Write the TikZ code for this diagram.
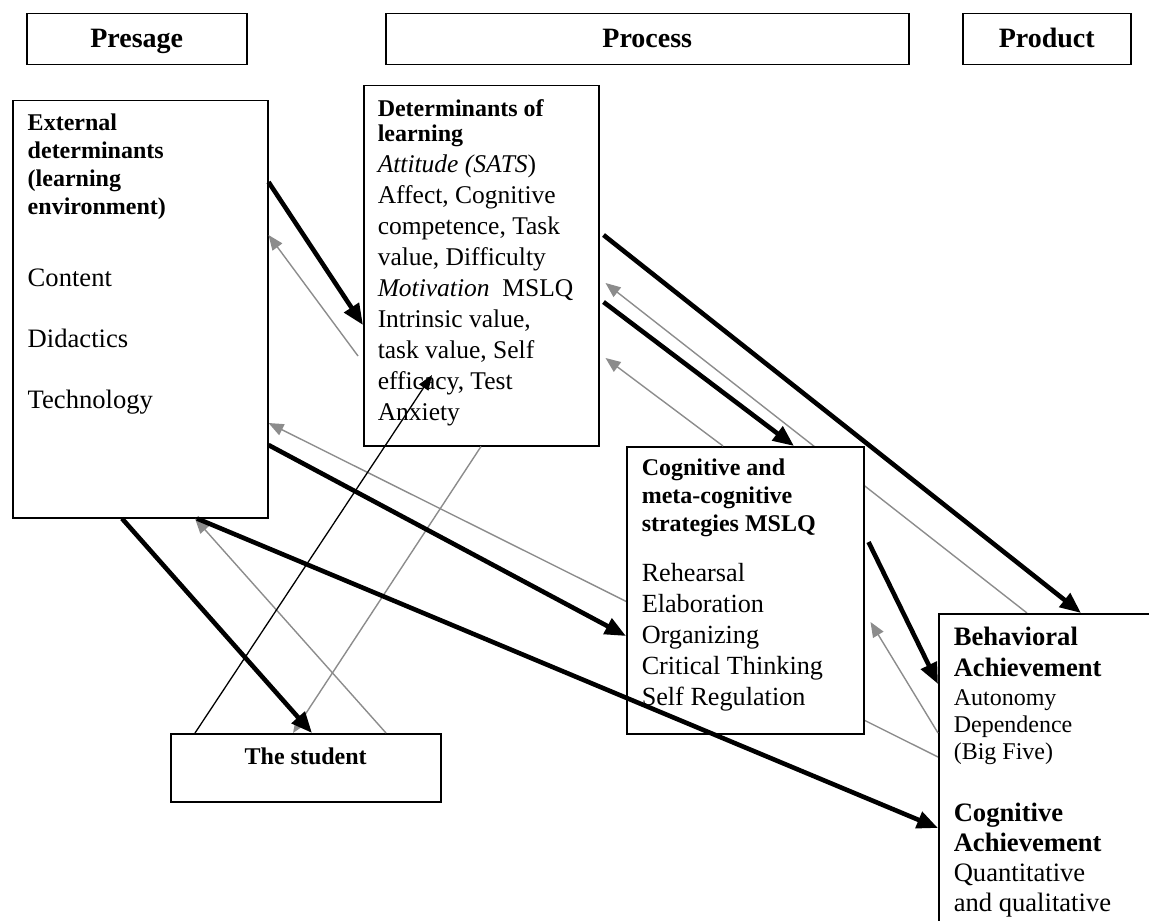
\documentclass[tikz,border=0pt]{standalone}
\usepackage{fontspec}
\setmainfont{Liberation Serif}
\usetikzlibrary{
    positioning,
    arrows.meta,
    backgrounds
}
\newcommand{\fsz}[2]{\fontsize{#1}{#2}\selectfont}
\setlength{\parskip}{0pt}

\begin{document}
\begin{tikzpicture}[x=0.5pt, y=-0.5pt]

    % --- Estilos ---
    \tikzset{
        head_box/.style={draw, line width=0.75pt, anchor=north west, minimum height=25.5pt,
            inner sep=0pt, text height=11.5pt, text depth=3pt, font=\fsz{14}{16}\bfseries},
        text_box/.style={draw, fill=white, line width=0.75pt, anchor=north west,
            inner xsep=7.5pt, inner ysep=0pt},
        bold_arrow/.style={-{Triangle[length=10.5pt,width=8.5pt]}, line width=2.3pt},
        gray_arrow/.style={-{Triangle[length=7.5pt,width=6pt]}, line width=0.7pt, draw=black!45},
        thin_arrow/.style={-{Triangle[length=7.5pt,width=5.5pt]}, line width=0.65pt}
    }

    \useasboundingbox (0,0) rectangle (1149,920);
    \clip (0,0) rectangle (1149,920);

    % --- Cabecalhos ---
    \node[head_box, minimum width=110pt] (presage) at (26,13) {Presage};
    \node[head_box, minimum width=261.5pt] (process) at (385,13) {Process};
    \node[head_box, minimum width=84pt] (product) at (962,13) {Product};

    % --- Caixas ---
    \node[text_box] (ext) at (12,100) {\parbox[t][208.5pt][t]{112.5pt}{\raggedright
        {\fsz{12}{14}\bfseries\rule{0pt}{15pt}External\\ determinants\\ (learning\\ environment)\par}
        \vspace{5.5pt}
        {\fsz{13.3}{30.5}Content\\ Didactics\\ Technology\par}}};

    \node[text_box, inner xsep=7pt] (det) at (363,85) {\parbox[t][180pt][t]{103.5pt}{\raggedright
        {\fsz{12}{12.5}\bfseries\rule{0pt}{15.6pt}Determinants of\\ learning\par}
        {\fsz{12.75}{15.5}\textit{Attitude (SATS})\\ Affect, Cognitive\\ competence, Task\\
        value, Difficulty\\ \textit{Motivation}\ \ MSLQ\\ Intrinsic value,\\ task value, Self\\
        efficacy, Test\\ Anxiety\par}}};

    \node[text_box] (cog) at (626,446) {\parbox[t][143.5pt][t]{103.5pt}{\raggedright
        {\fsz{12}{14}\bfseries\rule{0pt}{14.6pt}Cognitive and\\ meta-cognitive\\ strategies MSLQ\par}
        \vspace{9.3pt}
        {\fsz{13.1}{15.5}Rehearsal\\ Elaboration\\ Organizing\\ Critical Thinking\\ Self Regulation\par}}};

    \node[text_box] (student) at (170,733) {\parbox[t][34pt][t]{120pt}{\centering
        \fsz{12}{14}\bfseries\rule{0pt}{15.5pt}The student}};

    \node[text_box] (beh) at (938,613) {\parbox[t][170pt][t]{105pt}{\raggedright
        {\fsz{13.3}{15.5}\bfseries\rule{0pt}{16pt}Behavioral\\ Achievement\par}
        \vspace{1.1pt}
        {\fsz{12}{13.5}Autonomy\\ Dependence\\ (Big Five)\par}
        \vspace{15.9pt}
        {\fsz{13.3}{15}\bfseries Cognitive\\ Achievement\par}
        {\fsz{13.3}{15}Quantitative\\ and qualitative\par}}};

    % --- Setas cinzas atras das caixas ---
    \begin{scope}[on background layer]
        \draw[gray_arrow] ([xshift=44.5pt]beh.north west) -- ([xshift=3pt,yshift=-99pt]det.north east);
        \draw[gray_arrow] ([yshift=-72pt]beh.north west) -- ([yshift=-161.5pt]ext.north east);
    \end{scope}

    % --- Setas cinzas ---
    \draw[gray_arrow] ([xshift=-2.5pt,yshift=-135.5pt]det.north west) -- ([yshift=-67.5pt]ext.north east);
    \draw[gray_arrow] ([xshift=48.5pt]cog.north west) -- ([xshift=3pt,yshift=-136.5pt]det.north east);
    \draw[gray_arrow] ([yshift=-60pt]beh.north west) -- ([xshift=3pt,yshift=-88pt]cog.north east);
    \draw[gray_arrow] ([xshift=108pt]student.north west) -- ([xshift=91.5pt]ext.south west);
    \draw[gray_arrow] ([xshift=59pt]det.south west) -- ([xshift=61.5pt]student.north west);

    % --- Seta fina ---
    \draw[thin_arrow] ([xshift=12.5pt]student.north west) -- ([xshift=34.5pt,yshift=-145pt]det.north west);

    % --- Setas grossas ---
    \draw[bold_arrow] ([yshift=-41pt]ext.north east) -- ([yshift=-120pt]det.north west);
    \draw[bold_arrow] ([xshift=2pt,yshift=-75pt]det.north east) -- ([xshift=71.5pt]beh.north west);
    \draw[bold_arrow] ([xshift=2pt,yshift=-108.5pt]det.north east) -- ([xshift=84pt]cog.north west);
    \draw[bold_arrow] ([xshift=2pt,yshift=-48pt]cog.north east) -- ([yshift=-35.5pt]beh.north west);
    \draw[bold_arrow] ([yshift=-172.5pt]ext.north east) -- ([yshift=-95pt]cog.north west);
    \draw[bold_arrow] ([xshift=55pt]ext.south west) -- ([xshift=71pt]student.north west);
    \draw[bold_arrow] ([xshift=92.5pt]ext.south west) -- ([yshift=-107.5pt]beh.north west);

\end{tikzpicture}
\end{document}
